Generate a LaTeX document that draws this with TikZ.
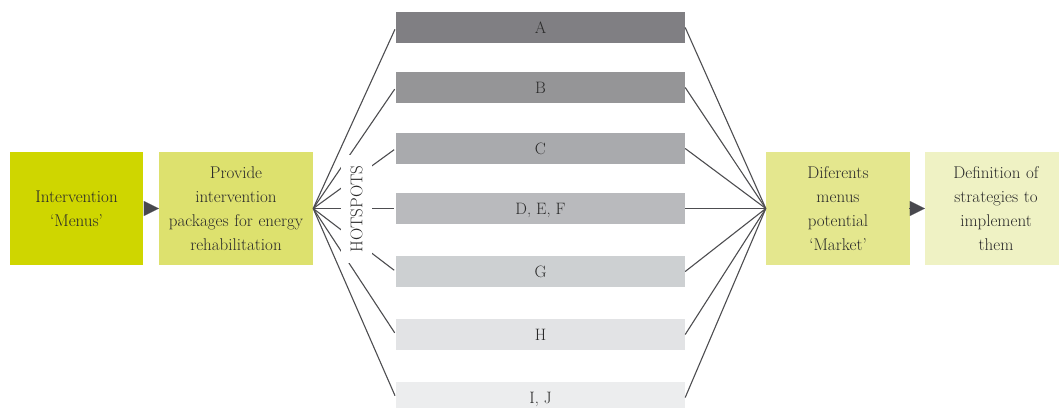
\documentclass[tikz,border=0pt]{standalone}
\usetikzlibrary{arrows.meta}
\definecolor{cMenus}{HTML}{CFD600}
\definecolor{cProv}{HTML}{DDE16E}
\definecolor{cDif}{HTML}{E4E78E}
\definecolor{cDef}{HTML}{EFF2C4}
\definecolor{cA}{HTML}{807F83}
\definecolor{cB}{HTML}{959597}
\definecolor{cC}{HTML}{A9AAAD}
\definecolor{cD}{HTML}{B9BABD}
\definecolor{cG}{HTML}{CDD0D2}
\definecolor{cH}{HTML}{E2E3E5}
\definecolor{cI}{HTML}{ECEDEE}
\definecolor{lineC}{HTML}{4D4D50}
\definecolor{triC}{HTML}{48484E}
\definecolor{txt}{HTML}{2A2A2A}
\begin{document}
\begin{tikzpicture}[x=1pt,y=-1pt,
  box/.style={inner sep=0pt, align=center, minimum height=113pt,
    font=\fontsize{17}{24}\selectfont, text=txt},
  bar/.style={inner sep=0pt, minimum width=289pt, minimum height=31pt,
    text height=11.3pt, text depth=0pt, font=\fontsize{16.5}{24}\selectfont, text=txt},
  link/.style={draw=lineC, line width=1.1pt},
  tri/.style={draw=triC, line width=0.1pt, shorten <=1pt, -{Triangle[length=15pt,width=15pt]}}]
\useasboundingbox (0,0) rectangle (1059,407);
\clip (0,0) rectangle (1059,407);

\node[box, fill=cMenus, minimum width=133pt, text width=131pt] (menus) at (76.5,208.5) {Intervention\\‘Menus’};
\node[box, fill=cProv, minimum width=154pt, text width=153pt] (prov) at (236,208.5) {Provide\\intervention\\packages for energy\\rehabilitation};
\node[box, fill=cDif, minimum width=144pt, text width=142pt] (dif) at (838,208.5) {Diferents\\menus\\potential\\‘Market’};
\node[box, fill=cDef, minimum width=142pt, text width=140pt] (def) at (996,208.5) {Definition of\\strategies to\\implement\\them};

\node[bar, fill=cA] (A) at (540.5,27.5) {A};
\node[bar, fill=cB] (B) at (540.5,87.5) {B};
\node[bar, fill=cC] (C) at (540.5,148.5) {C};
\node[bar, fill=cD] (D) at (540.5,208.5) {D, E, F};
\node[bar, fill=cG] (G) at (540.5,271.5) {G};
\node[bar, fill=cH] (H) at (540.5,334.5) {H};
\node[bar, fill=cI] (I) at (540.5,397.5) {I, J};

\foreach \b in {A,B,C,D,G,H,I}{
  \draw[link, shorten >=2pt] (prov.east) -- (\b.west);
  \draw[link] (\b.east) -- (dif.west);
}

\node[fill=white, rotate=90, inner sep=0pt, minimum width=108pt, minimum height=31pt,
  text height=11.6pt, text depth=0pt, font=\fontsize{17}{20}\selectfont, text=txt] (hs) at (356.5,209) {HOTSPOTS};

\draw[tri] (menus.east) -- (prov.west);
\draw[tri] (dif.east) -- (def.west);
\end{tikzpicture}
\end{document}
